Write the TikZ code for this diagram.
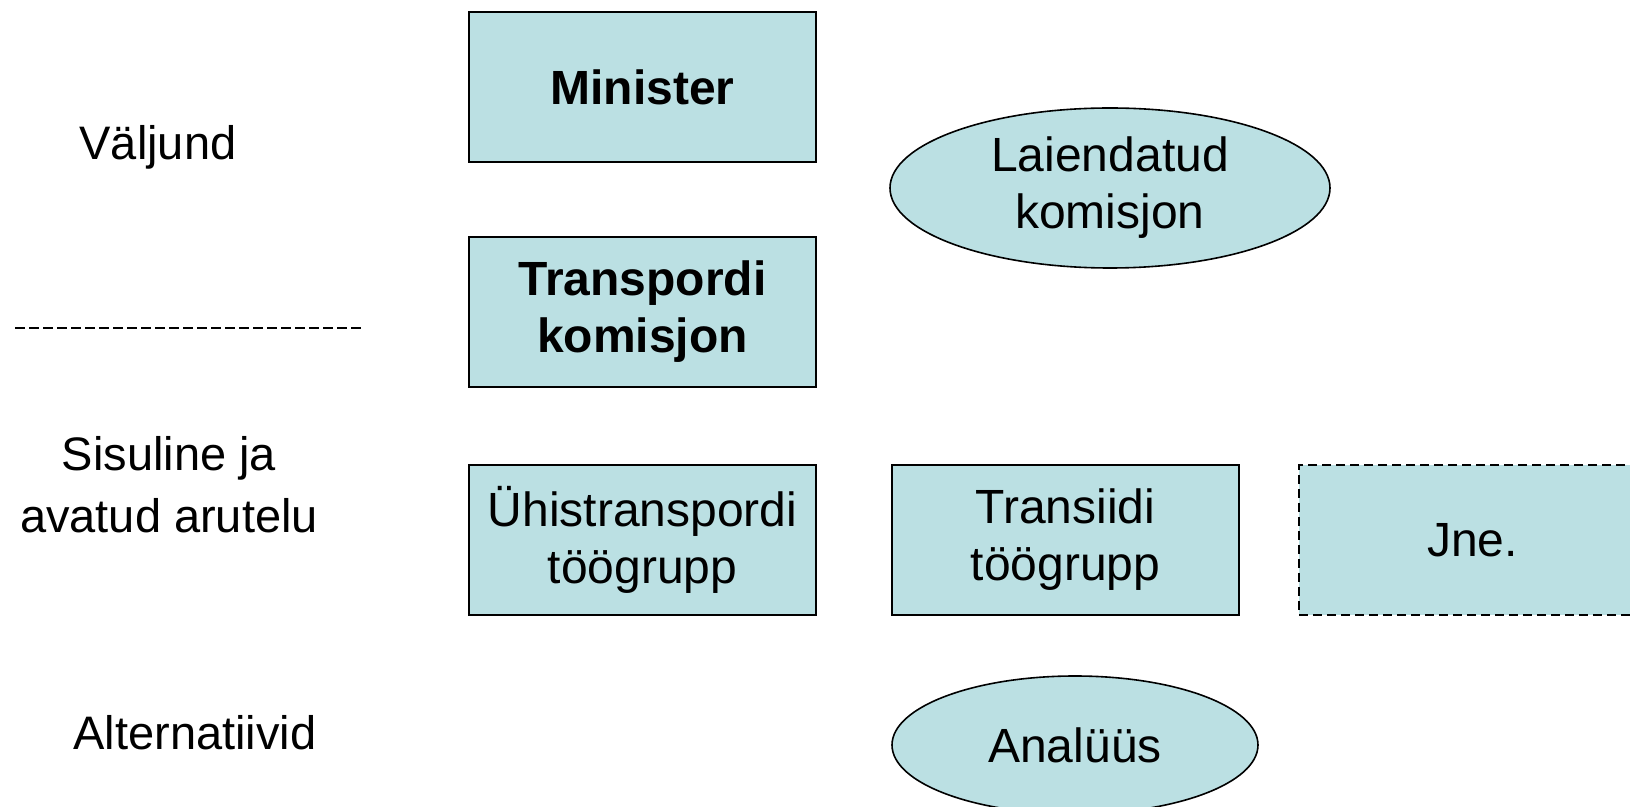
\documentclass[tikz,border=0pt]{standalone}
\usepackage{fontspec}
\setmainfont{Liberation Sans}
\usetikzlibrary{shapes.geometric}
\definecolor{boxfill}{RGB}{187,224,227}
\tikzset{
  every picture/.style={
    line width=0.8pt
  },
  txt/.style={
    font=\fontsize{23.5}{31}\selectfont, align=center
  },
  box/.style={
    txt, draw, fill=boxfill, inner sep=0pt,
    font=\fontsize{24}{28.5}\selectfont,
    minimum width=173.5pt, minimum height=75pt
  },
  bold box/.style={
    box, font=\fontsize{24}{28.5}\selectfont\bfseries
  },
  dashed box/.style={
    box, dash pattern=on 4.5pt off 2.5pt
  },
  oval/.style={
    txt, ellipse, draw, fill=boxfill, inner sep=0pt,
    font=\fontsize{24}{28.5}\selectfont
  }
}
\begin{document}
\begin{tikzpicture}[x=0.5pt, y=-0.5pt]
  \useasboundingbox (0,0) rectangle (1630,807);
  \clip (0,0) rectangle (1630,807);
  % levels on the left
  \node[txt] (valjund) at (158,147) {Väljund};
  \node[txt] (sisuline) at (169,485) {Sisuline ja\\avatud arutelu};
  \node[txt] (alternatiivid) at (195,733) {Alternatiivid};
  \coordinate (sep1) at (15,328);
  \coordinate (sep2) at (361,328);
  \draw[dash pattern=on 4.75pt off 2.25pt] (sep1) -- (sep2);
  % boxes
  \node[bold box] (minister) at (642.5,87) {Minister};
  \node[bold box] (komisjon) at (642.5,312) {Transpordi\\komisjon};
  \node[box] (yhis) at (642.5,540) {Ühistranspordi\\töögrupp};
  \node[box] (transiit) at (1065.5,540) {Transiidi\\töögrupp};
  \node[dashed box] (jne) at (1472.5,540) {Jne.};
  % ovals
  \node[oval, minimum width=220pt, minimum height=80pt] (laiend) at (1110,188) {Laiendatud\\komisjon};
  \node[oval, minimum width=183pt, minimum height=69pt] (analyys) at (1075,745) {Analüüs};
\end{tikzpicture}
\end{document}
